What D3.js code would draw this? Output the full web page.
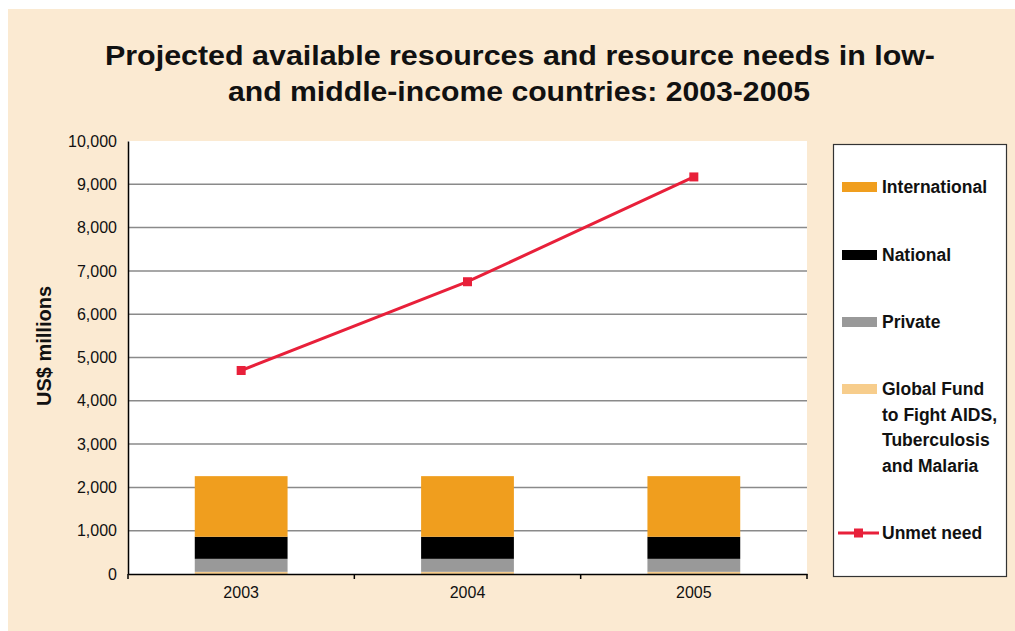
<!DOCTYPE html>
<html>
<head>
<meta charset="utf-8">
<script src="https://cdn.jsdelivr.net/npm/d3@7"></script>
<style>
  body { margin: 0; background: #fff; }
  svg text { font-family: "Liberation Sans", Arial, sans-serif; fill: #111; }
</style>
</head>
<body>
<svg id="chart"></svg>
<script>
const years = ["2003", "2004", "2005"];
const globalFund = [50, 50, 50];
const privateRes = [300, 300, 300];
const national = [510, 510, 510];
const international = [1400, 1400, 1400];
const unmetNeed = [4700, 6750, 9170];
const yTicks = [0, 1000, 2000, 3000, 4000, 5000, 6000, 7000, 8000, 9000, 10000];

const width = 1015, height = 631;
const svg = d3.select("#chart").attr("width", width).attr("height", height);

// beige panel
svg.append("rect").attr("x", 8).attr("y", 9).attr("width", width - 8).attr("height", height - 9)
  .attr("fill", "#fbead2");

// title
const title = svg.append("text").attr("text-anchor", "middle")
  .style("font-size", "27px").style("font-weight", "bold");
title.append("tspan").attr("x", 520).attr("y", 65)
  .attr("textLength", 830).attr("lengthAdjust", "spacingAndGlyphs")
  .text("Projected available resources and resource needs in low-");
title.append("tspan").attr("x", 519).attr("y", 101)
  .attr("textLength", 582).attr("lengthAdjust", "spacingAndGlyphs")
  .text("and middle-income countries: 2003-2005");

const plot = { left: 128, right: 807, top: 141, bottom: 574 };

svg.append("rect").attr("x", plot.left).attr("y", plot.top)
  .attr("width", plot.right - plot.left).attr("height", plot.bottom - plot.top).attr("fill", "#fff");

const x = d3.scaleBand().domain(years).range([plot.left, plot.right]).paddingInner(0.59).paddingOuter(0.295);
const y = d3.scaleLinear().domain([0, 10000]).range([plot.bottom, plot.top]);

// gridlines
svg.append("g").selectAll("line").data(yTicks.filter(d => d > 0 && d < 10000)).join("line")
  .attr("x1", plot.left).attr("x2", plot.right)
  .attr("y1", d => y(d)).attr("y2", d => y(d))
  .attr("stroke", "#8a8a8a").attr("stroke-width", 1.5);

// stacked bars
const keys = ["globalFund", "private", "national", "international"];
const colors = { globalFund: "#f7cd8c", private: "#999999", national: "#000000", international: "#f09e1e" };
const rows = years.map((yr, i) => ({
  year: yr, globalFund: globalFund[i], private: privateRes[i], national: national[i], international: international[i]
}));
const stack = d3.stack().keys(keys)(rows);
svg.append("g").selectAll("g").data(stack).join("g")
  .attr("fill", d => colors[d.key])
  .selectAll("rect").data(d => d).join("rect")
  .attr("x", d => x(d.data.year))
  .attr("width", x.bandwidth())
  .attr("y", d => y(d[1]))
  .attr("height", d => y(d[0]) - y(d[1]));

// axes
const yAxis = svg.append("g").attr("transform", `translate(${plot.left},0)`)
  .call(d3.axisLeft(y).tickValues(yTicks).tickFormat(d3.format(",")).tickSize(0).tickPadding(11));
yAxis.select(".domain").attr("stroke", "#000").attr("stroke-width", 1.5);
yAxis.selectAll("text").style("font-size", "16px").attr("fill", "#111");

const xAxis = svg.append("g").attr("transform", `translate(0,${plot.bottom})`)
  .call(d3.axisBottom(x).tickSize(0).tickPadding(13));
xAxis.select(".domain").attr("stroke", "#000").attr("stroke-width", 1.5);
xAxis.selectAll("text").style("font-size", "16px").attr("fill", "#111");
// category separator ticks
svg.append("g").selectAll("line").data([plot.left, x("2004") - x.step() * 0.295, x("2005") - x.step() * 0.295, plot.right]).join("line")
  .attr("x1", d => d).attr("x2", d => d).attr("y1", plot.bottom).attr("y2", plot.bottom + 5)
  .attr("stroke", "#000").attr("stroke-width", 1.5);

// unmet need line
const cx = i => x(years[i]) + x.bandwidth() / 2;
svg.append("path").datum(unmetNeed)
  .attr("fill", "none").attr("stroke", "#e8203a").attr("stroke-width", 3)
  .attr("d", d3.line().x((d, i) => cx(i)).y(d => y(d)));
svg.append("g").selectAll("rect").data(unmetNeed).join("rect")
  .attr("x", (d, i) => cx(i) - 4.5).attr("y", d => y(d) - 4.5)
  .attr("width", 9).attr("height", 9).attr("fill", "#e8203a");

// y label
svg.append("text").attr("transform", "translate(51,346) rotate(-90)")
  .attr("text-anchor", "middle").style("font-size", "20px").style("font-weight", "bold")
  .text("US$ millions");

// legend
const legend = svg.append("g");
legend.append("rect").attr("x", 833.5).attr("y", 144.5).attr("width", 173).attr("height", 432)
  .attr("fill", "#fff").attr("stroke", "#333").attr("stroke-width", 1.2);
const legendItems = [
  { label: ["International"], color: colors.international, y: 187 },
  { label: ["National"], color: colors.national, y: 255 },
  { label: ["Private"], color: colors.private, y: 322 },
  { label: ["Global Fund", "to Fight AIDS,", "Tuberculosis", "and Malaria"], color: colors.globalFund, y: 389 }
];
legendItems.forEach(item => {
  legend.append("rect").attr("x", 842).attr("y", item.y - 5).attr("width", 35).attr("height", 10).attr("fill", item.color);
  const t = legend.append("text").style("font-size", "17.5px").style("font-weight", "bold");
  item.label.forEach((l, j) => t.append("tspan").attr("x", 882).attr("y", item.y + 6 + j * 25.6).text(l));
});
legend.append("line").attr("x1", 838).attr("x2", 879).attr("y1", 533).attr("y2", 533)
  .attr("stroke", "#e8203a").attr("stroke-width", 3);
legend.append("rect").attr("x", 854).attr("y", 528.5).attr("width", 9).attr("height", 9).attr("fill", "#e8203a");
legend.append("text").attr("x", 882).attr("y", 539).style("font-size", "17.5px").style("font-weight", "bold").text("Unmet need");
</script>
</body>
</html>
